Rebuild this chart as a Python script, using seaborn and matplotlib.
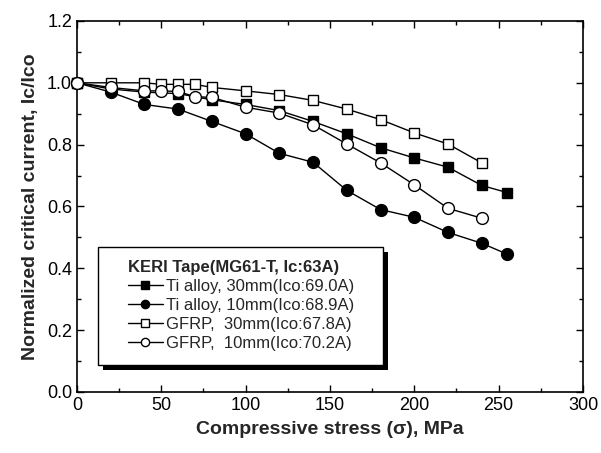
import numpy as np
import pandas as pd
import matplotlib
matplotlib.use("Agg")
import matplotlib.pyplot as plt
from matplotlib.patches import Rectangle
from matplotlib.ticker import MultipleLocator, FormatStrFormatter
import seaborn as sns

# =====================
# DATA
# =====================
x_ti30 = [0, 20, 40, 60, 80, 100, 120, 140, 160, 180, 200, 220, 240, 255]
y_ti30 = [1.0, 0.98, 0.97, 0.965, 0.945, 0.93, 0.91, 0.875, 0.835, 0.79, 0.757, 0.727, 0.668, 0.645]

x_ti10 = [0, 20, 40, 60, 80, 100, 120, 140, 160, 180, 200, 220, 240, 255]
y_ti10 = [1.0, 0.97, 0.93, 0.915, 0.875, 0.835, 0.772, 0.743, 0.652, 0.59, 0.565, 0.516, 0.481, 0.446]

x_gf30 = [0, 20, 40, 50, 60, 70, 80, 100, 120, 140, 160, 180, 200, 220, 240]
y_gf30 = [1.0, 1.0, 1.0, 0.995, 0.995, 0.995, 0.985, 0.974, 0.962, 0.943, 0.915, 0.881, 0.838, 0.802, 0.741]

x_gf10 = [0, 20, 40, 50, 60, 70, 80, 100, 120, 140, 160, 180, 200, 220, 240]
y_gf10 = [1.0, 0.985, 0.974, 0.974, 0.972, 0.955, 0.953, 0.921, 0.902, 0.864, 0.802, 0.741, 0.670, 0.594, 0.562]

labels = ["Ti alloy, 30mm(Ico:69.0A)",
          "Ti alloy, 10mm(Ico:68.9A)",
          "GFRP,  30mm(Ico:67.8A)",
          "GFRP,  10mm(Ico:70.2A)"]
legend_title = "KERI Tape(MG61-T, Ic:63A)"

# =====================
# PLOT
# =====================
sns.set_style("ticks")
plt.rcParams["font.family"] = ["Liberation Sans", "DejaVu Sans"]

fig = plt.figure(figsize=(6.01, 4.53), dpi=100)
ax = fig.add_axes([0.128, 0.1347, 0.842, 0.819])

series = [
    (x_ti30, y_ti30, "s", "black"),
    (x_ti10, y_ti10, "o", "black"),
    (x_gf30, y_gf30, "s", "white"),
    (x_gf10, y_gf10, "o", "white"),
]
for (xs, ys, mk, fc), lab in zip(series, labels):
    df = pd.DataFrame({"x": xs, "y": ys})
    sns.lineplot(data=df, x="x", y="y", ax=ax, color="black", lw=1.0,
                 marker=mk, markersize=8.5 if mk == "o" else 7.5,
                 markerfacecolor=fc, markeredgecolor="black",
                 markeredgewidth=1.0, label=lab, clip_on=False, zorder=3)

ax.set_xlim(0, 300)
ax.set_ylim(0, 1.2)
ax.xaxis.set_major_locator(MultipleLocator(50))
ax.xaxis.set_minor_locator(MultipleLocator(25))
ax.yaxis.set_major_locator(MultipleLocator(0.2))
ax.yaxis.set_minor_locator(MultipleLocator(0.1))
ax.yaxis.set_major_formatter(FormatStrFormatter("%.1f"))
ax.tick_params(which="both", direction="in", top=True, right=True,
               labelsize=13, width=1.0, colors="black")
ax.tick_params(which="major", length=5)
ax.tick_params(which="minor", length=3)
for sp in ax.spines.values():
    sp.set_linewidth(1.2)
    sp.set_color("black")

ax.set_xlabel("Compressive stress (σ), MPa", fontsize=14, fontweight="bold", labelpad=5)
ax.set_ylabel("Normalized critical current, Ic/Ico", fontsize=14, fontweight="bold", labelpad=6)

# legend box with a solid drop shadow (drawn by hand, wider padding than matplotlib's)
ax.add_patch(Rectangle((0.0515, 0.0593), 0.563, 0.318, transform=ax.transAxes,
                       facecolor="black", edgecolor="none", zorder=4, clip_on=False))
ax.add_patch(Rectangle((0.0415, 0.0728), 0.563, 0.318, transform=ax.transAxes,
                       facecolor="white", edgecolor="black", lw=1.0, zorder=4.5, clip_on=False))

leg = ax.legend(loc="upper left", bbox_to_anchor=(0.1, 0.357), title=legend_title,
                title_fontproperties={"weight": "bold", "size": 12},
                fontsize=12, frameon=False, borderpad=0, borderaxespad=0,
                handlelength=2.1, handletextpad=0.2, labelspacing=0.25,
                alignment="left", markerscale=0.7)
leg.set_zorder(5)

plt.savefig("out.png", dpi=100)
